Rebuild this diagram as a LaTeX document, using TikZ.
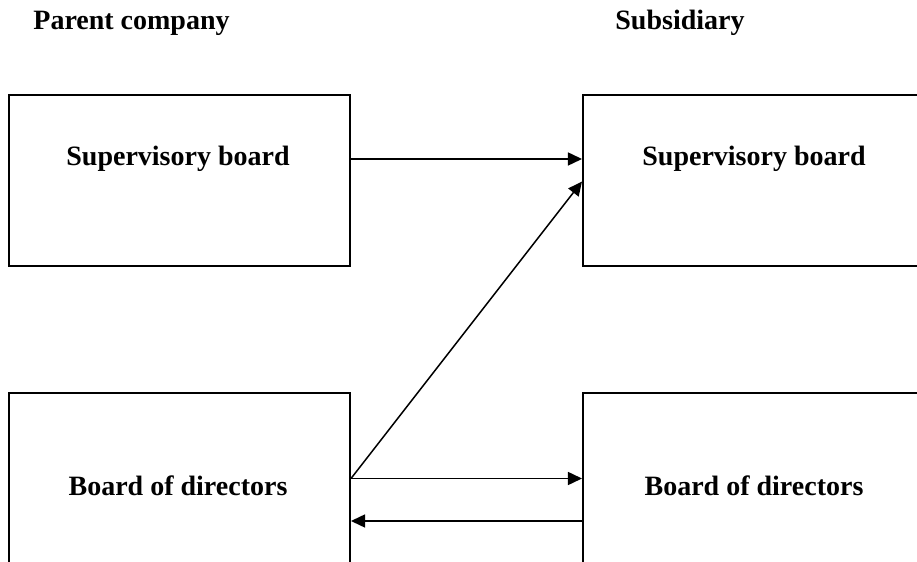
\documentclass[tikz,border=0pt]{standalone}
\usepackage{fontspec}
\setmainfont{Liberation Serif}
\usetikzlibrary{arrows.meta}
\usetikzlibrary{positioning}

\begin{document}
\begin{tikzpicture}[x=0.5bp, y=-0.5bp,
        board/.style={draw=black, line width=1bp, minimum width=170.5bp, minimum height=85.5bp, inner sep=0pt},
        lbl/.style={font=\fontsize{14bp}{17bp}\selectfont\bfseries, inner sep=0pt},
        arr/.style={line width=0.75bp, -{Triangle[length=7bp, width=6.5bp]}}]
                \useasboundingbox (0, 0) rectangle (917, 562);
                \node[lbl, anchor=base west] (parent) at (33, 30) {Parent company};
                \node[lbl, anchor=base west] (sub) at (615, 30) {Subsidiary};
                \node[board] (psup) at (179.5, 180.5) {};
                \node[board] (ssup) at (753.5, 180.5) {};
                \node[board] (pdir) at (179.5, 478.5) {};
                \node[board] (sdir) at (753.5, 478.5) {};
                \node[lbl, anchor=base] (psuptext) at (178, 166) {Supervisory board};
                \node[lbl, anchor=base] (ssuptext) at (754, 166) {Supervisory board};
                \node[lbl, anchor=base] (pdirtext) at (178, 495) {Board of directors};
                \node[lbl, anchor=base] (sdirtext) at (754, 495) {Board of directors};
                \draw[arr] ([yshift=10.75bp]psup.east) -- ([yshift=10.75bp]ssup.east -| ssup.west);
                \draw[arr] (pdir.east) -- ([yshift=-0.5bp]ssup.west);
                \draw[arr] (pdir.east) -- (sdir.west);
                \draw[arr] ([yshift=-21.25bp]sdir.west) -- ([yshift=-21.25bp]pdir.east);
            \end{tikzpicture}
\end{document}
